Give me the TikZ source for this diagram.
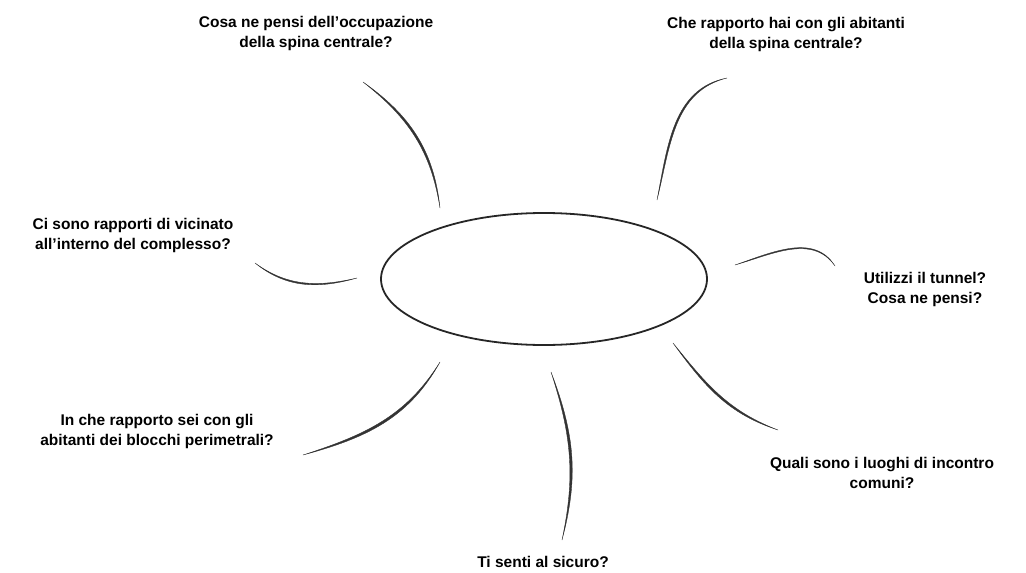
\documentclass[tikz,border=0pt]{standalone}
\usepackage{fontspec}
\setmainfont{Liberation Sans}
\usepackage{tikz}
\usetikzlibrary{shapes}
\newcommand{\brushray}[4]{
  \pgfmathsetmacro{\backout}{#4-3}
  \pgfmathsetmacro{\backin}{#3+3}
  \fill[RayStyle] (#1) to[out=#3,in=#4] (#2)
    to[out=\backout,in=\backin] (#1) -- cycle;
}
\tikzset{
  x = 1pt, y = 1pt,
  QuestionStyle/.style = {font=\fontsize{15.5}{20}\selectfont\bfseries,
                          text=black, align=center, inner sep=0pt},
  RayStyle/.style      = {draw=black!80, fill=black!80, line width=0.35pt,
                          line join=round},
  HubStyle/.style      = {ellipse, draw=black!85, line width=1.8pt,
                          minimum width=326, minimum height=132, inner sep=0pt}
}

\begin{document}
\begin{tikzpicture}
  \useasboundingbox (0,0) rectangle (1026,-573);
  \node[HubStyle] (centro) at (544,-279) {};
  % questions
  \node[QuestionStyle] (occup)    at (316,-33)  {Cosa ne pensi dell'occupazione\\della spina centrale?};
  \node[QuestionStyle] (abitanti) at (786,-34)  {Che rapporto hai con gli abitanti\\della spina centrale?};
  \node[QuestionStyle] (vicinato) at (133,-235) {Ci sono rapporti di vicinato\\all'interno del complesso?};
  \node[QuestionStyle] (tunnel)   at (925,-289) {Utilizzi il tunnel?\\Cosa ne pensi?};
  \node[QuestionStyle] (blocchi)  at (157,-431) {In che rapporto sei con gli\\abitanti dei blocchi perimetrali?};
  \node[QuestionStyle] (luoghi)   at (882,-473) {Quali sono i luoghi di incontro\\comuni?};
  \node[QuestionStyle] (sicuro)   at (543,-562) {Ti senti al sicuro?};
  % ray ends
  \coordinate (occA) at (363,-82);  \coordinate (occB) at (440,-208);
  \coordinate (abiA) at (727,-78);  \coordinate (abiB) at (657,-200);
  \coordinate (vicA) at (255,-263); \coordinate (vicB) at (357,-278);
  \coordinate (tunA) at (735,-265); \coordinate (tunB) at (835,-266);
  \coordinate (bloA) at (440,-362); \coordinate (bloB) at (303,-455);
  \coordinate (sicA) at (551,-372); \coordinate (sicB) at (562,-540);
  \coordinate (luoA) at (673,-343); \coordinate (luoB) at (778,-430);
  \brushray{occA}{occB}{-38}{99}
  \brushray{abiA}{abiB}{191}{79}
  \brushray{vicA}{vicB}{-39}{196}
  \brushray{tunA}{tunB}{16}{125}
  \brushray{bloA}{bloB}{238}{18}
  \brushray{sicA}{sicB}{-72}{78}
  \brushray{luoA}{luoB}{-54}{162}
\end{tikzpicture}
\end{document}
